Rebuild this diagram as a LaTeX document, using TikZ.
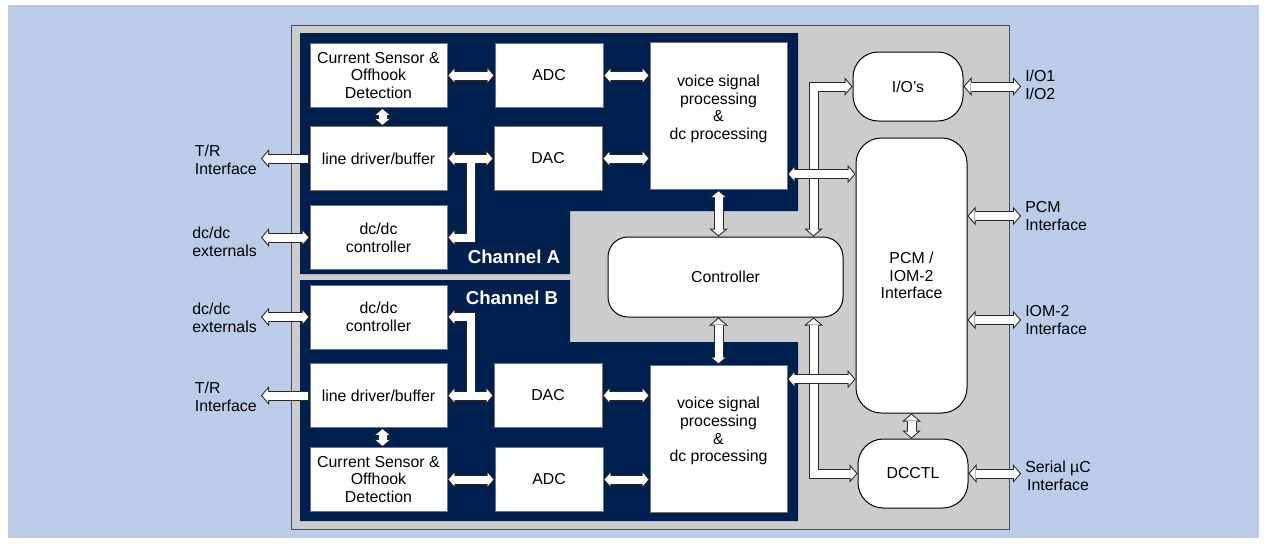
\documentclass[tikz,border=0pt]{standalone}
\usepackage{fontspec}
\setmainfont{Liberation Sans}
\usetikzlibrary{arrows.meta,calc}
\pgfdeclarelayer{bg}
\pgfdeclarelayer{pipeback}
\pgfsetlayers{bg,pipeback,main}
\definecolor{skyblue}{RGB}{187,204,232}
\definecolor{chipgray}{RGB}{204,204,204}
\definecolor{navy}{RGB}{0,32,80}
\newcommand\bus[2]{%
  \begin{pgfonlayer}{pipeback}\draw[busout,#1] #2;\end{pgfonlayer}
  \draw[busin,#1] #2;}
\newcommand\topbus[2]{\draw[busout,#1] #2; \draw[busin,#1] #2;}

\begin{document}
\begin{tikzpicture}[x=0.75pt,y=-0.75pt,
  font=\fontsize{11.9}{13.3}\selectfont,
  blk/.style={draw=black!55, line width=0.5pt, fill=white, align=center, inner sep=0pt},
  lbox/.style={blk, minimum width=102.75pt, minimum height=48pt},
  cbox/.style={blk, minimum width=81pt, minimum height=48pt},
  vbox/.style={blk, minimum width=102.75pt, minimum height=110.5pt},
  rblk/.style={draw=black, line width=0.75pt, fill=white, align=center, inner sep=0pt, rounded corners=#1},
  ext/.style={align=left, inner sep=3pt},
  chan/.style={text=white, font=\fontsize{14}{16}\bfseries\selectfont},
  busout/.style={draw=black!85, line width=7.5pt, >={Triangle[width=14pt,length=6pt,line width=0pt]}},
  busin/.style={draw=white, line width=6pt, shorten >=1pt, shorten <=1pt, >={Triangle[width=9.9pt,length=4.25pt,line width=0pt]}}]
\useasboundingbox (0,0) rectangle (1267,543);
\begin{pgfonlayer}{bg}
\fill[skyblue] (8,5) rectangle (1259,538);
\filldraw[fill=chipgray, draw=black!70, line width=0.75pt] (291,25) rectangle (1009,529);
\fill[navy] (300,33) -- (798,33) -- (798,211) -- (570,211) -- (570,274) -- (300,274) -- cycle;
\fill[navy] (300,280) -- (570,280) -- (570,342) -- (798,342) -- (798,521) -- (300,521) -- cycle;
\end{pgfonlayer}

\node[lbox] (csA) at (378.5,75.5) {Current Sensor \&\\Offhook\\Detection};
\node[lbox] (ldA) at (378.5,158.5) {line driver/buffer};
\node[lbox] (dcA) at (378.5,237.5) {dc/dc\\controller};
\node[cbox] (adcA) at (549,75.5) {ADC};
\node[cbox] (dacA) at (548,158.5) {DAC};
\node[vbox] (vspA) at (718.5,116) {voice signal\\processing\\\&\\dc processing\\[0pt]\mbox{}};
\node[chan] (chA) at (514,257) {Channel A};

\node[lbox] (dcB) at (378.5,317) {dc/dc\\controller};
\node[lbox] (ldB) at (378.5,395.5) {line driver/buffer};
\node[lbox] (csB) at (378.5,479.5) {Current Sensor \&\\Offhook\\Detection};
\node[cbox] (dacB) at (548,395.5) {DAC};
\node[cbox] (adcB) at (549,479.5) {ADC};
\node[vbox] (vspB) at (718.5,438.5) {voice signal\\processing\\\&\\dc processing\\[0pt]\mbox{}};
\node[chan] (chB) at (512,298) {Channel B};

\node[rblk=15pt, minimum width=176.25pt, minimum height=60pt] (ctrl) at (725.5,277) {Controller};
\node[rblk=19pt, minimum width=82.5pt, minimum height=51.75pt] (io) at (908,86.5) {I/O's};
\node[rblk=19pt, minimum width=83.25pt, minimum height=206.25pt] (pcm) at (911.5,275.5) {PCM /\\IOM-2\\Interface};
\node[rblk=19pt, minimum width=82.5pt, minimum height=51.75pt] (dcctl) at (913,473.5) {DCCTL};

\node[ext, anchor=east] (trA) at (261,160) {T/R\\Interface};
\node[ext, anchor=east] (dxA) at (261,242) {dc/dc\\externals};
\node[ext, anchor=east] (dxB) at (261,318) {dc/dc\\externals};
\node[ext, anchor=east] (trB) at (261,396.5) {T/R\\Interface};
\node[ext, anchor=west] (ioext) at (1021,85) {I/O1\\I/O2};
\node[ext, anchor=west] (pcmext) at (1021,216) {PCM\\Interface};
\node[ext, anchor=west] (iomext) at (1021,320) {IOM-2\\Interface};
\node[ext, anchor=west, align=center] (serext) at (1021,476) {Serial µC\\Interface};

\bus{<->}{(csA.east) -- (adcA.west)}
\bus{<->}{([xshift=3pt]csA.south) -- ([xshift=3pt]ldA.north)}
\bus{<->}{(ldA.east) -- (dacA.west)}
\coordinate (brA) at ($(ldA.east)!0.5!(dacA.west)$);
\bus{->}{(brA) |- (dcA.east)}
\bus{->}{(ldA.west) -- (ldA.west -| trA.east)}
\bus{<->}{(dcA.west) -- (dcA.west -| dxA.east)}
\bus{<->}{(adcA.east) -- (vspA.west |- adcA.east)}
\bus{<->}{(dacA.east) -- (vspA.west |- dacA.east)}
\bus{<->}{(vspA.south) -- (vspA.south |- ctrl.north)}

\bus{<->}{(csB.east) -- (adcB.west)}
\bus{<->}{([xshift=3pt]csB.north) -- ([xshift=3pt]ldB.south)}
\bus{<->}{(ldB.east) -- (dacB.west)}
\coordinate (brB) at ($(ldB.east)!0.5!(dacB.west)$);
\bus{->}{(brB) |- (dcB.east)}
\bus{->}{(ldB.west) -- (ldB.west -| trB.east)}
\bus{<->}{(dcB.west) -- (dcB.west -| dxB.east)}
\bus{<->}{(adcB.east) -- (vspB.west |- adcB.east)}
\bus{<->}{(dacB.east) -- (vspB.west |- dacB.east)}
\bus{<->}{(vspB.north) -- (vspB.north |- ctrl.south)}

\coordinate (busA) at ([xshift=-22.5pt]ctrl.north east);
\coordinate (busB) at ([xshift=-22.5pt]ctrl.south east);
\bus{<->}{(busA) |- (io.west)}
\bus{<->}{(busB) |- (dcctl.west)}
\coordinate (vpA) at ([yshift=12pt]vspA.south east);
\coordinate (vpB) at ([yshift=-11pt]vspB.north east);
\topbus{<->}{(vpA) -- (vpA -| pcm.west)}
\topbus{<->}{(vpB) -- (vpB -| pcm.west)}

\bus{<->}{(io.east) -- (io.east -| ioext.west)}
\bus{<->}{(pcm.east |- pcmext.west) -- (pcmext.west)}
\bus{<->}{(pcm.east |- iomext.west) -- (iomext.west)}
\bus{<->}{(pcm.south) -- (pcm.south |- dcctl.north)}
\bus{<->}{(dcctl.east) -- (dcctl.east -| serext.west)}
\end{tikzpicture}
\end{document}
